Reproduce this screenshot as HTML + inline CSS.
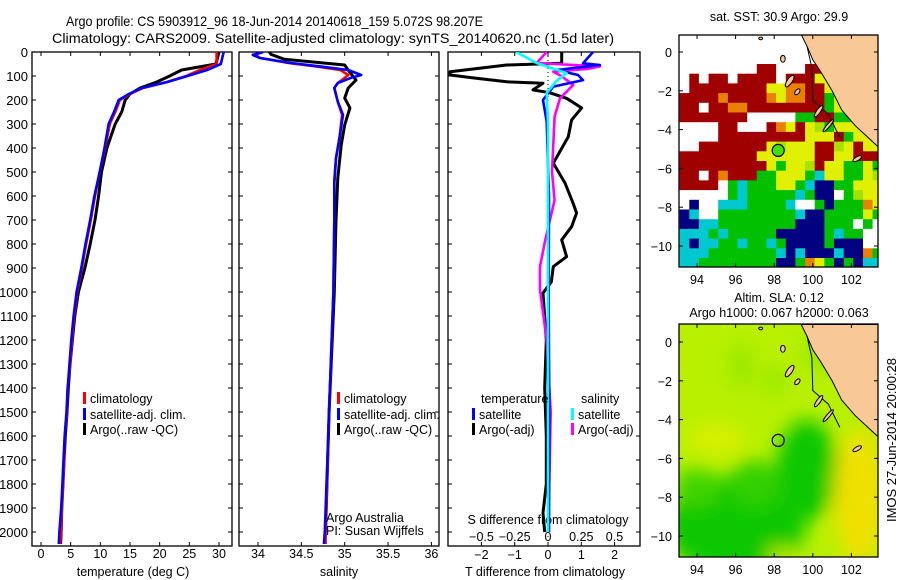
<!DOCTYPE html>
<html><head><meta charset="utf-8"><style>
html,body{margin:0;padding:0;background:#fff;}
svg{display:block;font-family:"Liberation Sans",sans-serif;}
</style></head><body>
<svg id="chart" width="900" height="580" viewBox="0 0 900 580" xmlns="http://www.w3.org/2000/svg">
<defs>
<clipPath id="cp1"><rect x="32" y="52" width="200" height="494"/></clipPath>
<clipPath id="cp2"><rect x="239" y="52" width="200" height="494"/></clipPath>
<clipPath id="cp3"><rect x="448" y="52" width="192" height="494"/></clipPath>
<clipPath id="cm1"><rect x="679" y="35" width="199" height="232"/></clipPath>
<clipPath id="cm2"><rect x="679" y="324" width="199" height="233"/></clipPath>
<filter id="blur" x="-20%" y="-20%" width="140%" height="140%"><feGaussianBlur stdDeviation="9"/></filter>
</defs>
<text x="66" y="26" font-size="14" textLength="417" lengthAdjust="spacingAndGlyphs">Argo profile: CS 5903912_96 18-Jun-2014 20140618_159 5.072S 98.207E</text>
<text x="52" y="43" font-size="14" textLength="562" lengthAdjust="spacingAndGlyphs">Climatology: CARS2009. Satellite-adjusted climatology: synTS_20140620.nc (1.5d later)</text>
<g id="g1"></g><g id="g2"></g><g id="g3"></g><g id="gm1"></g><g id="gm2"></g>
<text transform="translate(896,440) rotate(-90)" text-anchor="middle" font-size="13">IMOS 27-Jun-2014 20:00:28</text>
</svg>
<script>
// ---- data ----
const depthT = [0,50,75,100,125,150,175,200,250,300,400,500,600,700,800,900,1000,1100,1200,1300,1400,1500,1600,1700,1800,1900,2000,2050];
const tClim = [29.6,29.6,26.8,24.5,21.2,17.2,15,13.3,12.5,11.6,10.8,9.9,9.1,8.4,7.6,6.9,6.1,5.6,5.2,4.9,4.5,4.4,4.0,3.9,3.7,3.5,3.4,3.2];
const tSat = [30.8,30.3,28.0,24.7,21.3,17.0,14.8,13.1,12.3,11.4,10.7,9.9,9.0,8.3,7.5,6.8,6.0,5.5,5.1,4.8,4.5,4.3,4.0,3.8,3.6,3.4,3.1,3.0];
const tArgo = [30.0,29.5,23.7,21.7,19.5,16.7,15.0,14.2,13.6,12.5,11.1,10.2,9.7,9.1,8.3,7.4,6.3,5.7,5.3,4.9,4.6,4.4,4.1,3.9,3.7,3.5,3.4,3.3];
const depthS = [0,12,25,46,61,75,96,108,129,150,207,262,358,442,542,700,1000,1500,2000,2050];
const sSat = [34.06,33.94,34.02,34.38,34.73,35.04,35.19,35.07,34.92,34.88,34.92,34.98,34.94,34.90,34.88,34.88,34.87,34.82,34.77,34.76];
const sClim = [34.06,33.95,34.03,34.35,34.68,34.95,35.04,35.0,34.92,34.88,34.92,34.97,34.94,34.90,34.88,34.88,34.87,34.82,34.78,34.78];
const depthSA = [0,10,30,54,80,117,150,192,233,304,388,525,700,1000,1500,2000];
const sArgo = [34.13,34.15,34.3,35.0,35.05,35.13,35.04,35.0,35.06,35.0,34.96,34.92,34.9,34.88,34.82,34.78];
const dTaDepth = [0,47,54,82,96,108,124,130,158,170,193,233,283,353,463,546,629,671,728,783,853,894,958,1004,1200,1400,1600,1800,1921,2000];
const dTa = [0.41,0.41,-1.24,-2.94,-2.94,-2.25,-1.24,-0.15,-0.45,0.06,0.56,1.01,0.71,0.61,0.16,0.51,0.75,0.86,0.71,0.41,0.56,0.16,0.1,-0.15,-0.05,-0.1,-0.05,-0.05,-0.15,-0.1];
const dTsDepth = [0,47,54,75,96,117,144,200,290,600,1000,1500,2000];
const dTs = [1.35,1.05,1.56,0.26,0.9,1.05,0.16,-0.15,-0.04,0.03,0.02,0.04,0.03];
const dSaDepth = [0,46,60,70,82,100,137,193,269,500,617,783,894,990,1200,1500,1800,2000];
const dSa = [-0.01,-0.085,0.39,0.3,0.04,0.1,0.19,0.09,0.05,0.03,0.05,-0.02,-0.06,-0.06,-0.01,0.02,0.01,0.0];
const dSsDepth = [0,46,88,120,170,300,1000,2000];
const dSs = [-0.24,-0.085,0.14,0.065,-0.01,0,0,0];
const depthTicks = [0,100,200,300,400,500,600,700,800,900,1000,1100,1200,1300,1400,1500,1600,1700,1800,1900,2000];
const tTicks = [0,5,10,15,20,25,30];
const sTicks = [34,34.5,35,35.5,36];
const dTTicks = [-2,-1,0,1,2];
const dSTicks = [-0.5,-0.25,0,0.25,0.5];
const lonTicks = [94,96,98,100,102];
const latTicks = [0,-2,-4,-6,-8,-10];
const sstRows = [
"wwwwwwwwwwwwwwlllllll",
"wwwwwwwwwwwwwwlllllll",
"wwwwwwwwwwwwwwwllllll",
"wwwwwwwwrrwwwrryyllll",
"wrwrrwrrrrwrrryylllll",
"wrrrrrrrryyoorryyylll",
"rrrrorrrroyoorrgyylll",
"rrwrroorrrrrrrrgyylll",
"rrrrrrrwwwwwggrrggyll",
"wwwwrrwwwroyrymgyyyyl",
"wwwwrrrrrrrrryyyrgyyy",
"wwrrrrrrrymyyyrrmyryy",
"rrrrrrrryyyyyyrryyrrr",
"rrrrrrrrrygyymryyggyg",
"rrwrorrrggyyygcyyggym",
"rrrrwgcgggyygcbbggyyy",
"wwwwwgcgggggcgbbwgmyy",
"wbwwcccggggcwwgbgggoy",
"bcwwggggggggcbbggggyg",
"bbccggggggggbbbgggwgw",
"cccgcgggggbbbbbgcggww",
"cbccggcggcgbbbbgbbbww",
"cccgggggggcbcbbbcbbog",
"ccggggggggbbgoygbgbcc"];
const sstColors = {w:"#ffffff",r:"#a00000",o:"#e88000",y:"#e0f000",m:"#a8e000",g:"#00c000",c:"#00c8d0",b:"#000080",l:"#f8c896"};
const argoLon = 98.207, argoLat = -5.072;

// ---- helpers ----
const NS="http://www.w3.org/2000/svg";
function mk(parent,tag,attrs){const e=document.createElementNS(NS,tag);for(const k in attrs)e.setAttribute(k,attrs[k]);parent.appendChild(e);return e;}
const yD = d => 52 + 0.24*d;
const xT = t => 41 + 5.933*t;
const xS = s => 258 + 86.7*(s-34);
const xDT = v => 548 + 33.3*v;
const xDS = v => 548 + 133*v;
const mxLon = lon => 697 + 19.3*(lon-94);
const my1 = lat => 52 - 19.4*lat;
const my2 = lat => 342 - 19.4*lat;

function frame(g,x,y,w,h,name){
  const r=mk(g,'rect',{x:x,y:y,width:w,height:h,fill:'none',stroke:'#000','stroke-width':1.3});
  
  
}
function depthAxis(g,x0,x1,labels){
  depthTicks.forEach(d=>{
    const y=yD(d);
    mk(g,'line',{x1:x0,y1:y,x2:x0+4,y2:y,stroke:'#000'});
    mk(g,'line',{x1:x1-4,y1:y,x2:x1,y2:y,stroke:'#000'});
    if(labels){const t=mk(g,'text',{x:28,y:y+5,'text-anchor':'end','font-size':13});t.textContent=d;
      
      }
  });
}
function line(g,xs,ds,fx,color,w,name,clip){
  const pts=xs.map((v,i)=>fx(v).toFixed(1)+','+yD(ds[i]).toFixed(1)).join(' ');
  const p=mk(g,'polyline',{points:pts,fill:'none',stroke:color,'stroke-width':w,'stroke-linejoin':'round','clip-path':'url(#'+clip+')'});
  
  
}
function txt(g,x,y,s,size,anchor,name){
  const t=mk(g,'text',{x:x,y:y,'font-size':size,'text-anchor':anchor||'start'});t.textContent=s;
  
  
  return t;
}
function legend(g,x,y,color,label,name){
  mk(g,'rect',{x:x,y:y-11,width:3,height:12,fill:color});
  txt(g,x+7,y,label,12.5,'start',name);
}

// ---- panel 1: temperature ----
const g1=document.getElementById('g1');
frame(g1,32,52,200,494,'temperature-plot-area');
depthAxis(g1,32,232,true);
tTicks.forEach(v=>{const x=xT(v);mk(g1,'line',{x1:x,y1:546,x2:x,y2:542,stroke:'#000'});mk(g1,'line',{x1:x,y1:52,x2:x,y2:56,stroke:'#000'});
  txt(g1,x,558,v,12.5,'middle','temperature-tick-label');});
txt(g1,133,576,'temperature (deg C)',12.5,'middle','temperature-axis-title');
line(g1,tArgo,depthT,xT,'#000',3,'argo-temperature-line','cp1');
line(g1,tClim,depthT,xT,'#f00',2.6,'clim-temperature-line','cp1');
line(g1,tSat,depthT,xT,'#0000ff',2.6,'sat-temperature-line','cp1');
legend(g1,83,403,'#f00','climatology','legend-climatology');
legend(g1,83,419,'#00f','satellite-adj. clim.','legend-satellite');
legend(g1,83,434,'#000','Argo(..raw -QC)','legend-argo');

// ---- panel 2: salinity ----
const g2=document.getElementById('g2');
frame(g2,239,52,200,494,'salinity-plot-area');
depthAxis(g2,239,439,false);
sTicks.forEach(v=>{const x=xS(v);mk(g2,'line',{x1:x,y1:546,x2:x,y2:542,stroke:'#000'});mk(g2,'line',{x1:x,y1:52,x2:x,y2:56,stroke:'#000'});
  txt(g2,x,558,v,12.5,'middle','salinity-tick-label');});
txt(g2,339,576,'salinity',12.5,'middle','salinity-axis-title');
line(g2,sArgo,depthSA,xS,'#000',3,'argo-salinity-line','cp2');
line(g2,sClim,depthS,xS,'#f00',2.6,'clim-salinity-line','cp2');
line(g2,sSat,depthS,xS,'#0000ff',2.6,'sat-salinity-line','cp2');
legend(g2,337,403,'#f00','climatology','legend-climatology-2');
legend(g2,337,419,'#00f','satellite-adj. clim.','legend-satellite-2');
legend(g2,337,434,'#000','Argo(..raw -QC)','legend-argo-2');
txt(g2,326,522,'Argo Australia',12.5,'start','credit-argo-australia');
txt(g2,326,535,'PI: Susan Wijffels',12.5,'start','credit-pi');

// ---- panel 3: differences ----
const g3=document.getElementById('g3');
frame(g3,448,52,192,494,'difference-plot-area');
depthAxis(g3,448,640,false);
mk(g3,'line',{x1:548,y1:52,x2:548,y2:546,stroke:'#000','stroke-dasharray':'1,3'});
dTTicks.forEach(v=>{const x=xDT(v);mk(g3,'line',{x1:x,y1:546,x2:x,y2:542,stroke:'#000'});mk(g3,'line',{x1:x,y1:52,x2:x,y2:56,stroke:'#000'});
  txt(g3,x,559,v===0?'0':String(v).replace('-','\u2212'),12.5,'middle','t-diff-tick-label');});
dSTicks.forEach(v=>{txt(g3,xDS(v),541,v===0?'0':String(v).replace('-','\u2212'),12.5,'middle','s-diff-tick-label');});
txt(g3,548,524,'S difference from climatology',12.5,'middle','s-diff-axis-title');
txt(g3,545,576,'T difference from climatology',12.5,'middle','t-diff-axis-title');
line(g3,dTa,dTaDepth,xDT,'#000',3,'argo-t-diff-line','cp3');
line(g3,dSa,dSaDepth,xDS,'#ff00ff',2.6,'argo-s-diff-line','cp3');
line(g3,dTs,dTsDepth,xDT,'#0000ff',2.6,'sat-t-diff-line','cp3');
line(g3,dSs,dSsDepth,xDS,'#00ffff',2.6,'sat-s-diff-line','cp3');
txt(g3,481,403,'temperature',12.5,'start','legend-temperature-header');
txt(g3,581,403,'salinity',12.5,'start','legend-salinity-header');
legend(g3,472,419,'#00f','satellite','legend-t-satellite');
legend(g3,472,434,'#000','Argo(-adj)','legend-t-argo');
legend(g3,571,419,'#0ff','satellite','legend-s-satellite');
legend(g3,571,434,'#f0f','Argo(-adj)','legend-s-argo');

// ---- maps ----
const landPts=[[99.4,0.9],[99.7,0.3],[100.0,-0.4],[100.4,-1.0],[101.0,-2.0],[101.5,-3.0],[102.2,-3.8],[103.4,-4.9],[103.4,0.9]];
const islands=[[98.8,-1.5,0.35,0.13,-55],[99.2,-2.05,0.18,0.1,-50],[100.3,-3.05,0.35,0.1,-55],[100.8,-3.8,0.4,0.08,-50],[102.3,-5.5,0.25,0.1,-30],[98.45,-0.35,0.12,0.18,0],[97.3,0.7,0.1,0.07,0]];
function coast(g,my){
  const pts=landPts.map(p=>mxLon(p[0]).toFixed(1)+','+my(p[1]).toFixed(1)).join(' ');
  const p=mk(g,'polygon',{points:pts,fill:'#f8c896',stroke:'#000','stroke-width':1});
  
  
  mk(g,'polyline',{points:[[99.7,0.3],[99.95,-0.8],[100.0,-2.5],[100.8,-3.2],[101.4,-4.4]].map(q=>mxLon(q[0])+','+my(q[1])).join(' '),fill:'none',stroke:'#000','stroke-width':1});
  islands.forEach(s=>{
    const e=mk(g,'ellipse',{cx:mxLon(s[0]),cy:my(s[1]),rx:s[2]*19.3,ry:s[3]*19.3,fill:'#f8c896',stroke:'#000','stroke-width':1,transform:'rotate('+s[4]+' '+mxLon(s[0])+' '+my(s[1])+')'});
    
    
  });
}
function mapAxes(g,y0,h,my,name){
  frame(g,679,y0,199,h,name);
  lonTicks.forEach(v=>{const x=mxLon(v);mk(g,'line',{x1:x,y1:y0,x2:x,y2:y0+4,stroke:'#000'});mk(g,'line',{x1:x,y1:y0+h,x2:x,y2:y0+h-4,stroke:'#000'});
    txt(g,x,y0+h+17,v,12.5,'middle','longitude-tick-label');});
  latTicks.forEach(v=>{const y=my(v);mk(g,'line',{x1:679,y1:y,x2:683,y2:y,stroke:'#000'});mk(g,'line',{x1:874,y1:y,x2:878,y2:y,stroke:'#000'});
    txt(g,672,y+5,v===0?'0':String(v).replace('-','\u2212'),12.5,'end','latitude-tick-label');});
}
const gm1=document.getElementById('gm1');
const cells=mk(gm1,'g',{'clip-path':'url(#cm1)'});
sstRows.forEach((row,j)=>{
  for(let i=0;i<row.length;i++){
    const lon=93.1+0.5*i, lat=0.88-0.5*j;
    const r=mk(cells,'rect',{x:mxLon(lon).toFixed(1),y:my1(lat).toFixed(1),width:10.2,height:10.2,fill:sstColors[row[i]]});
    
    
  }
});
const cg1=mk(gm1,'g',{'clip-path':'url(#cm1)'});
coast(cg1,my1);
const a1=mk(gm1,'circle',{cx:mxLon(argoLon),cy:my1(argoLat),r:6,fill:'#40e000',stroke:'#000','stroke-width':1.2});


mapAxes(gm1,35,232,my1,'sst-map-area');
txt(gm1,779,21,'sat. SST: 30.9 Argo: 29.9',12.5,'middle','sst-map-title');

const gm2=document.getElementById('gm2');
const cg2=mk(gm2,'g',{'clip-path':'url(#cm2)'});
mk(cg2,'rect',{x:679,y:324,width:199,height:233,fill:'#b8f000'});
const bl=mk(cg2,'g',{filter:'url(#blur)'});
[[96,-9.5,3.6,2.6,'#10c800'],[99.7,-6.6,1.6,2.6,'#10c800'],[97,-7.3,1.3,1.2,'#30d000'],[94,-7.5,1.2,1,'#40d400'],
 [102.4,-8,1.3,3.5,'#f0e000'],[95,-5,1.5,0.8,'#d8f000'],[96.3,-1.2,0.6,1.2,'#98e800'],[98,-2,0.7,0.7,'#98e800'],[100.5,-0.5,1,1,'#98e800'],[98.3,-11,0.6,0.4,'#c8f000']]
 .forEach(b=>mk(bl,'ellipse',{cx:mxLon(b[0]),cy:my2(b[1]),rx:b[2]*19.3,ry:b[3]*19.3,fill:b[4]}));
coast(cg2,my2);
const a2=mk(gm2,'circle',{cx:mxLon(argoLon),cy:my2(argoLat),r:6,fill:'none',stroke:'#000','stroke-width':1.2});


mapAxes(gm2,324,233,my2,'sla-map-area');
txt(gm2,779,302,'Altim. SLA: 0.12',12.5,'middle','sla-map-title');
txt(gm2,779,317,'Argo h1000: 0.067 h2000: 0.063',12.5,'middle','sla-map-subtitle');
</script>
</body></html>
